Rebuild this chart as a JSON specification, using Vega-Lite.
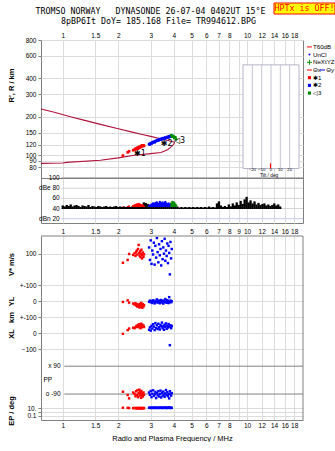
{
  "$schema": "https://vega.github.io/schema/vega-lite/v6.json",
  "background": "#ffffff",
  "padding": {"left": 6, "top": 2, "right": 0, "bottom": 0},
  "spacing": 0,
  "config": {
    "view": {"stroke": "#808080", "strokeWidth": 1},
    "font": "Liberation Sans",
    "concat": {"spacing": 0},
    "axis": {
      "labelFont": "Liberation Sans", "labelFontSize": 6.5, "labelColor": "#000000",
      "labelOverlap": false, "labelFlush": false, "labelPadding": 2,
      "titleFont": "Liberation Sans", "titleFontSize": 7.5, "titleColor": "#000000", "titleFontWeight": "bold",
      "gridColor": "#dcdcdc", "gridWidth": 1, "tickColor": "#808080", "domainColor": "#808080"
    }
  },
  "datasets": {
    "heading": [
      {"line": 1, "text": "TROMSO NORWAY\u00a0\u00a0\u00a0DYNASONDE 26-07-04 0402UT 15°E"},
      {"line": 2, "text": "8pBP6It DoY= 185.168 File= TR994612.BPG"}
    ],
    "status": [{"flag": "HPTx is OFF!"}],
    "single": [{}],
    "model": [
      {"f": 0.762, "r": 230, "branch": "upper"}, {"f": 0.9, "r": 217, "branch": "upper"},
      {"f": 1.1, "r": 200, "branch": "upper"}, {"f": 1.3, "r": 188, "branch": "upper"},
      {"f": 1.6, "r": 174, "branch": "upper"}, {"f": 2.0, "r": 161, "branch": "upper"},
      {"f": 2.35, "r": 152, "branch": "upper"}, {"f": 2.7, "r": 145, "branch": "upper"},
      {"f": 3.0, "r": 140, "branch": "upper"}, {"f": 3.4, "r": 134, "branch": "upper"},
      {"f": 3.8, "r": 129, "branch": "upper"}, {"f": 4.05, "r": 126, "branch": "upper"},
      {"f": 0.762, "r": 86, "branch": "lower"}, {"f": 1.0, "r": 86.5, "branch": "lower"},
      {"f": 1.05, "r": 87.5, "branch": "lower"}, {"f": 1.6, "r": 91, "branch": "lower"},
      {"f": 2.0, "r": 95, "branch": "lower"}, {"f": 2.44, "r": 99.5, "branch": "lower"},
      {"f": 3.0, "r": 102.5, "branch": "lower"}, {"f": 3.41, "r": 104.5, "branch": "lower"},
      {"f": 3.7, "r": 110, "branch": "lower"}, {"f": 3.9, "r": 117, "branch": "lower"},
      {"f": 4.0, "r": 122, "branch": "lower"}, {"f": 4.05, "r": 126, "branch": "lower"}
    ],
    "echoes": [
      {"f": 2.12, "r": 99, "a": 44, "vs": 42, "yl": -6, "xl": -5, "pp": -75, "ep": 14, "trace": "✱1"},
      {"f": 2.25, "r": 105, "a": 45, "vs": 60, "yl": 4, "xl": 18, "pp": -96, "ep": 13, "trace": "✱1"},
      {"f": 2.29, "r": 107, "a": 46, "vs": 98, "yl": -10, "xl": 28, "pp": -118, "ep": 12, "trace": "✱1"},
      {"f": 2.41, "r": 109, "a": 47, "vs": 92, "yl": -16, "xl": 33, "pp": -80, "ep": 11, "trace": "✱1"},
      {"f": 2.45, "r": 110, "a": 48, "vs": 102, "yl": -22, "xl": 30, "pp": -88, "ep": 12, "trace": "✱1"},
      {"f": 2.48, "r": 112, "a": 49, "vs": 86, "yl": -14, "xl": 36, "pp": -104, "ep": 11, "trace": "✱1"},
      {"f": 2.50, "r": 111, "a": 47, "vs": 110, "yl": -28, "xl": 40, "pp": -72, "ep": 12, "trace": "✱1"},
      {"f": 2.52, "r": 113, "a": 50, "vs": 120, "yl": -20, "xl": 45, "pp": -96, "ep": 10, "trace": "✱1"},
      {"f": 2.54, "r": 114, "a": 48, "vs": 95, "yl": -35, "xl": 38, "pp": -66, "ep": 11, "trace": "✱1"},
      {"f": 2.56, "r": 112, "a": 50, "vs": 130, "yl": -25, "xl": 50, "pp": -110, "ep": 12, "trace": "✱1"},
      {"f": 2.58, "r": 115, "a": 51, "vs": 156, "yl": -30, "xl": 42, "pp": -84, "ep": 11, "trace": "✱1"},
      {"f": 2.60, "r": 114, "a": 49, "vs": 105, "yl": -40, "xl": 55, "pp": -62, "ep": 10, "trace": "✱1"},
      {"f": 2.61, "r": 116, "a": 50, "vs": 88, "yl": -18, "xl": 35, "pp": -100, "ep": 12, "trace": "✱1"},
      {"f": 2.63, "r": 115, "a": 48, "vs": 115, "yl": -32, "xl": 48, "pp": -76, "ep": 11, "trace": "✱1"},
      {"f": 2.64, "r": 117, "a": 49, "vs": 78, "yl": -24, "xl": 30, "pp": -92, "ep": 10, "trace": "✱1"},
      {"f": 2.66, "r": 116, "a": 47, "vs": 100, "yl": -38, "xl": 58, "pp": -114, "ep": 11, "trace": "✱1"},
      {"f": 2.67, "r": 118, "a": 48, "vs": 125, "yl": -12, "xl": 44, "pp": -70, "ep": 12, "trace": "✱1"},
      {"f": 2.69, "r": 117, "a": 46, "vs": 70, "yl": -28, "xl": 36, "pp": -98, "ep": 11, "trace": "✱1"},
      {"f": 2.70, "r": 119, "a": 47, "vs": 92, "yl": -42, "xl": 52, "pp": -86, "ep": 10, "trace": "✱1"},
      {"f": 2.72, "r": 118, "a": 48, "vs": 108, "yl": -20, "xl": 40, "pp": -106, "ep": 11, "trace": "✱1"},
      {"f": 2.74, "r": 119, "a": 46, "vs": 80, "yl": -34, "xl": 46, "pp": -80, "ep": 12, "trace": "✱1"},
      {"f": 2.76, "r": 118, "a": 45, "vs": 96, "yl": -26, "xl": 38, "pp": -94, "ep": 11, "trace": "✱1"},
      {"f": 2.94, "r": 122, "a": 46, "vs": 140, "yl": -5, "xl": 20, "pp": -80, "ep": 14, "trace": "✱2"},
      {"f": 2.97, "r": 121, "a": 48, "vs": 60, "yl": 2, "xl": 35, "pp": -95, "ep": 13, "trace": "✱2"},
      {"f": 3.00, "r": 124, "a": 47, "vs": 185, "yl": -8, "xl": 15, "pp": -70, "ep": 15, "trace": "✱2"},
      {"f": 3.03, "r": 123, "a": 50, "vs": 35, "yl": 0, "xl": 45, "pp": -110, "ep": 12, "trace": "✱2"},
      {"f": 3.06, "r": 125, "a": 49, "vs": 120, "yl": -12, "xl": 28, "pp": -88, "ep": 13, "trace": "✱2"},
      {"f": 3.09, "r": 126, "a": 52, "vs": 95, "yl": 4, "xl": 55, "pp": -66, "ep": 14, "trace": "✱2"},
      {"f": 3.12, "r": 127, "a": 51, "vs": 170, "yl": -3, "xl": 40, "pp": -102, "ep": 13, "trace": "✱2"},
      {"f": 3.15, "r": 126, "a": 48, "vs": 30, "yl": -15, "xl": 18, "pp": -92, "ep": 15, "trace": "✱2"},
      {"f": 3.18, "r": 128, "a": 53, "vs": 150, "yl": 1, "xl": 62, "pp": -76, "ep": 12, "trace": "✱2"},
      {"f": 3.21, "r": 129, "a": 50, "vs": 75, "yl": -6, "xl": 30, "pp": -116, "ep": 14, "trace": "✱2"},
      {"f": 3.24, "r": 130, "a": 54, "vs": 200, "yl": 10, "xl": 48, "pp": -84, "ep": 13, "trace": "✱2"},
      {"f": 3.27, "r": 131, "a": 52, "vs": 110, "yl": -10, "xl": 25, "pp": -98, "ep": 13, "trace": "✱2"},
      {"f": 3.30, "r": 130, "a": 49, "vs": 45, "yl": -2, "xl": 58, "pp": -72, "ep": 14, "trace": "✱2"},
      {"f": 3.33, "r": 132, "a": 51, "vs": 160, "yl": 3, "xl": 36, "pp": -106, "ep": 12, "trace": "✱2"},
      {"f": 3.36, "r": 133, "a": 55, "vs": 90, "yl": -14, "xl": 22, "pp": -90, "ep": 15, "trace": "✱2"},
      {"f": 3.39, "r": 132, "a": 53, "vs": 130, "yl": -4, "xl": 50, "pp": -68, "ep": 13, "trace": "✱2"},
      {"f": 3.42, "r": 134, "a": 50, "vs": 25, "yl": 6, "xl": 42, "pp": -112, "ep": 14, "trace": "✱2"},
      {"f": 3.45, "r": 133, "a": 52, "vs": 180, "yl": -9, "xl": 65, "pp": -82, "ep": 13, "trace": "✱2"},
      {"f": 3.48, "r": 135, "a": 54, "vs": 65, "yl": 0, "xl": 30, "pp": -100, "ep": 12, "trace": "✱2"},
      {"f": 3.51, "r": 134, "a": 51, "vs": 140, "yl": -16, "xl": 44, "pp": -74, "ep": 14, "trace": "✱2"},
      {"f": 3.54, "r": 136, "a": 49, "vs": 100, "yl": 2, "xl": 20, "pp": -94, "ep": 13, "trace": "✱2"},
      {"f": 3.57, "r": 135, "a": 53, "vs": 195, "yl": -7, "xl": 52, "pp": -108, "ep": 15, "trace": "✱2"},
      {"f": 3.60, "r": 137, "a": 55, "vs": 55, "yl": 12, "xl": 38, "pp": -86, "ep": 13, "trace": "✱2"},
      {"f": 3.63, "r": 136, "a": 52, "vs": 120, "yl": -3, "xl": 60, "pp": -64, "ep": 14, "trace": "✱2"},
      {"f": 3.66, "r": 138, "a": 50, "vs": 85, "yl": -11, "xl": 26, "pp": -96, "ep": 12, "trace": "✱2"},
      {"f": 3.69, "r": 137, "a": 51, "vs": 165, "yl": 5, "xl": 46, "pp": -78, "ep": 13, "trace": "✱2"},
      {"f": 3.72, "r": 139, "a": 48, "vs": 40, "yl": -1, "xl": 34, "pp": -104, "ep": 14, "trace": "✱2"},
      {"f": 3.75, "r": 138, "a": 52, "vs": 150, "yl": -13, "xl": 56, "pp": -90, "ep": 13, "trace": "✱2"},
      {"f": 3.78, "r": 140, "a": 50, "vs": 105, "yl": 24, "xl": 40, "pp": -118, "ep": 15, "trace": "✱2"},
      {"f": 3.81, "r": 139, "a": 47, "vs": -32, "yl": -6, "xl": -76, "pp": -72, "ep": 13, "trace": "✱2"},
      {"f": 3.84, "r": 141, "a": 49, "vs": 175, "yl": 3, "xl": 48, "pp": -88, "ep": 12, "trace": "✱2"},
      {"f": 3.87, "r": 140, "a": 51, "vs": 70, "yl": -8, "xl": 30, "pp": -100, "ep": 14, "trace": "✱2"},
      {"f": 3.90, "r": 141, "a": 48, "vs": 130, "yl": -2, "xl": 44, "pp": -84, "ep": 13, "trace": "✱2"},
      {"f": 3.88, "r": 143, "a": 52, "trace": "◁3"},
      {"f": 3.93, "r": 139, "a": 55, "trace": "◁3"},
      {"f": 3.98, "r": 141, "a": 54, "trace": "◁3"},
      {"f": 4.03, "r": 136, "a": 53, "trace": "◁3"},
      {"f": 4.08, "r": 138, "a": 50, "trace": "◁3"},
      {"f": 4.12, "r": 133, "a": 48, "trace": "◁3"}
    ],
    "tags": [
      {"f": 2.62, "r": 102, "tag": "✱1"},
      {"f": 3.66, "r": 123, "tag": "✱2"},
      {"f": 4.3, "r": 128, "tag": "◁3"}
    ],
    "unclassified": [
      {"f": 1.000, "a": 46}, {"f": 1.025, "a": 44}, {"f": 1.051, "a": 47}, {"f": 1.077, "a": 45},
      {"f": 1.104, "a": 48}, {"f": 1.131, "a": 44}, {"f": 1.160, "a": 46}, {"f": 1.189, "a": 47},
      {"f": 1.218, "a": 45}, {"f": 1.249, "a": 43}, {"f": 1.280, "a": 46}, {"f": 1.312, "a": 45},
      {"f": 1.345, "a": 44}, {"f": 1.379, "a": 47}, {"f": 1.413, "a": 43}, {"f": 1.448, "a": 45},
      {"f": 1.485, "a": 44}, {"f": 1.522, "a": 43}, {"f": 1.560, "a": 45}, {"f": 1.599, "a": 44},
      {"f": 1.639, "a": 43}, {"f": 1.680, "a": 44}, {"f": 1.722, "a": 45}, {"f": 1.765, "a": 43},
      {"f": 1.809, "a": 44}, {"f": 1.854, "a": 43}, {"f": 1.900, "a": 44}, {"f": 1.948, "a": 45},
      {"f": 1.996, "a": 43}, {"f": 2.046, "a": 44}, {"f": 2.098, "a": 43}, {"f": 2.150, "a": 44},
      {"f": 2.204, "a": 43}, {"f": 2.259, "a": 44}, {"f": 2.315, "a": 43}, {"f": 2.373, "a": 44},
      {"f": 2.433, "a": 45}, {"f": 2.493, "a": 44}, {"f": 2.556, "a": 45}, {"f": 2.620, "a": 46},
      {"f": 2.685, "a": 47}, {"f": 2.752, "a": 52}, {"f": 2.821, "a": 51}, {"f": 2.892, "a": 49},
      {"f": 2.964, "a": 45}, {"f": 3.038, "a": 44}, {"f": 3.114, "a": 45}, {"f": 3.192, "a": 44},
      {"f": 3.271, "a": 46}, {"f": 3.353, "a": 45}, {"f": 3.437, "a": 44}, {"f": 3.523, "a": 46},
      {"f": 3.611, "a": 45}, {"f": 3.701, "a": 44}, {"f": 3.794, "a": 46}, {"f": 3.889, "a": 47},
      {"f": 3.986, "a": 44}, {"f": 4.085, "a": 43}, {"f": 4.188, "a": 44}, {"f": 4.292, "a": 42},
      {"f": 4.400, "a": 43}, {"f": 4.510, "a": 42}, {"f": 4.622, "a": 43}, {"f": 4.738, "a": 42},
      {"f": 4.856, "a": 43}, {"f": 4.978, "a": 42}, {"f": 5.102, "a": 43}, {"f": 5.230, "a": 42},
      {"f": 5.361, "a": 43}, {"f": 5.495, "a": 42}, {"f": 5.632, "a": 43}, {"f": 5.773, "a": 42},
      {"f": 5.917, "a": 43}, {"f": 6.065, "a": 42}, {"f": 6.217, "a": 44}, {"f": 6.372, "a": 42},
      {"f": 6.531, "a": 43}, {"f": 6.695, "a": 42}, {"f": 6.862, "a": 50}, {"f": 7.034, "a": 54},
      {"f": 7.210, "a": 46}, {"f": 7.390, "a": 43}, {"f": 7.575, "a": 45}, {"f": 7.764, "a": 43},
      {"f": 7.958, "a": 48}, {"f": 8.157, "a": 44}, {"f": 8.361, "a": 50}, {"f": 8.570, "a": 46},
      {"f": 8.784, "a": 52}, {"f": 9.004, "a": 47}, {"f": 9.229, "a": 55}, {"f": 9.460, "a": 49},
      {"f": 9.696, "a": 58}, {"f": 9.939, "a": 63}, {"f": 10.19, "a": 52}, {"f": 10.44, "a": 56},
      {"f": 10.70, "a": 50}, {"f": 10.97, "a": 54}, {"f": 11.24, "a": 48}, {"f": 11.53, "a": 51},
      {"f": 11.81, "a": 47}, {"f": 12.11, "a": 49}, {"f": 12.41, "a": 50}, {"f": 12.72, "a": 46},
      {"f": 13.04, "a": 48}, {"f": 13.37, "a": 45}, {"f": 13.70, "a": 47}, {"f": 14.04, "a": 50},
      {"f": 14.39, "a": 46}, {"f": 14.75, "a": 48}, {"f": 15.12, "a": 44}
    ],
    "dbeLevels": [
      {"level": 100, "label": "100"}, {"level": 80, "label": "dBe 80"}, {"level": 60, "label": "60"},
      {"level": 40, "label": "40"}, {"level": 20, "label": "dBn 20"}
    ],
    "ppLevels": [{"level": 90, "label": "x 90"}, {"level": -90, "label": "o -90"}],
    "tiltGrid": [{"tilt": -20}, {"tilt": -10}, {"tilt": 0}, {"tilt": 10}, {"tilt": 20}],
    "tiltMean": [{"tilt": -0.5}],
    "tiltCaption": [{"caption": "Tilt / deg"}],
    "legendItems": [
      {"item": "T60dB", "line": "T60dB"}, {"item": "UnCl", "line": "UnCl"},
      {"item": "NeXtYZ", "line": "NeXtYZ"}, {"item": "Θx", "line": "Θx Θy"},
      {"item": "Θy", "line": "Θx Θy"}, {"item": "✱1", "line": "✱1"},
      {"item": "✱2", "line": "✱2"}, {"item": "◁3", "line": "◁3"}
    ]
  },
  "vconcat": [
    {
      "hconcat": [
        {
          "width": 232, "height": 28, "view": {"stroke": null},
          "data": {"name": "heading"},
          "encoding": {
            "y": {"field": "line", "type": "ordinal", "axis": null, "scale": {"type": "point", "padding": 1.4, "domain": [1, 2]}},
            "text": {"field": "text", "type": "nominal"}
          },
          "layer": [
            {"transform": [{"filter": "datum.line == 1"}],
             "mark": {"type": "text", "font": "DejaVu Sans Mono", "fontSize": 8.3, "baseline": "middle", "dx": -6.5, "color": "#000000"},
             "encoding": {}},
            {"transform": [{"filter": "datum.line == 2"}],
             "mark": {"type": "text", "font": "DejaVu Sans Mono", "fontSize": 8.3, "baseline": "middle", "dx": 1.5, "color": "#000000"},
             "encoding": {}}
          ]
        },
        {
          "width": 61, "height": 11, "view": {"stroke": null},
          "data": {"name": "status"},
          "layer": [
            {"mark": {"type": "rect", "fill": "#ffff00", "stroke": "#ff0000", "strokeWidth": 1},
             "encoding": {
               "x": {"datum": 0, "type": "quantitative", "scale": {"domain": [0, 1]}, "axis": null},
               "x2": {"datum": 1},
               "y": {"datum": 0, "type": "quantitative", "scale": {"domain": [0, 1]}, "axis": null},
               "y2": {"datum": 1}
             }},
            {"mark": {"type": "text", "font": "DejaVu Sans Mono", "fontSize": 8.3, "color": "#ff0000", "baseline": "middle"},
             "encoding": {
               "x": {"datum": 0.5, "type": "quantitative", "scale": {"domain": [0, 1]}, "axis": null},
               "y": {"datum": 0.5, "type": "quantitative", "scale": {"domain": [0, 1]}, "axis": null},
               "text": {"field": "flag", "type": "nominal"}
             }}
          ]
        }
      ]
    },
    {
      "hconcat": [
        {
          "bounds": "flush",
          "spacing": 0,
          "vconcat": [
            {
              "width": 262, "height": 138,
              "resolve": {"scale": {"x": "independent"}},
              "layer": [
                {
                  "layer": [
                    {
                      "data": {"name": "model"},
                      "mark": {"type": "line", "color": "#b0123c", "strokeWidth": 1.1},
                      "encoding": {
                        "x": {"field": "f", "type": "quantitative",
                              "scale": {"type": "log", "domain": [0.762, 20.1], "nice": false},
                              "axis": {"orient": "top", "values": [1, 1.5, 2, 3, 4, 5, 6, 7, 8, 9, 10, 12, 14, 16, 18],
                                       "labelExpr": "datum.value == 9 ? '' : format(datum.value, '~g')",
                                       "grid": true, "ticks": false, "domain": false, "labelPadding": 2, "title": null}},
                        "y": {"field": "r", "type": "quantitative",
                              "scale": {"type": "log", "domain": [66, 800], "nice": false},
                              "axis": {"title": "R', R / km", "values": [80, 90, 100, 120, 150, 200, 300, 400, 600, 800],
                                       "labelExpr": "format(datum.value, 'd')", "grid": true, "tickSize": 3, "domain": false,
                                       "minExtent": 22, "maxExtent": 22, "titlePadding": 4, "titleY": 45}},
                        "detail": {"field": "branch", "type": "nominal"}
                      }
                    },
                    {
                      "data": {"name": "echoes"},
                      "mark": {"type": "point", "shape": "square", "filled": true, "size": 7, "opacity": 1},
                      "encoding": {
                        "x": {"field": "f", "type": "quantitative", "scale": {"type": "log", "domain": [0.762, 20.1], "nice": false}},
                        "y": {"field": "r", "type": "quantitative", "scale": {"type": "log", "domain": [66, 800], "nice": false}},
                        "color": {"field": "trace", "type": "nominal", "scale": {"domain": ["✱1", "✱2", "◁3"], "range": ["#ff0000", "#0000ff", "#008c00"]}, "legend": null}
                      }
                    },
                    {
                      "data": {"name": "tags"},
                      "mark": {"type": "text", "font": "DejaVu Sans", "fontSize": 8, "color": "#000000", "baseline": "middle"},
                      "encoding": {
                        "x": {"field": "f", "type": "quantitative", "scale": {"type": "log", "domain": [0.762, 20.1], "nice": false}},
                        "y": {"field": "r", "type": "quantitative", "scale": {"type": "log", "domain": [66, 800], "nice": false}},
                        "text": {"field": "tag", "type": "nominal"}
                      }
                    }
                  ]
                },
                {
                  "layer": [
                    {
                      "data": {"name": "single"},
                      "mark": {"type": "rect", "fill": "#ffffff", "stroke": "#b4b4c8", "strokeWidth": 1},
                      "encoding": {
                        "x": {"datum": -30, "type": "quantitative", "scale": {"domain": [-30, 30], "range": [202, 258], "nice": false, "zero": false}, "axis": null},
                        "x2": {"datum": 30},
                        "y": {"datum": 510, "type": "quantitative", "scale": {"type": "log", "domain": [66, 800], "nice": false}},
                        "y2": {"datum": 78.4}
                      }
                    },
                    {
                      "data": {"name": "tiltGrid"},
                      "mark": {"type": "rule", "color": "#c4c4d4", "strokeWidth": 1},
                      "encoding": {
                        "x": {"field": "tilt", "type": "quantitative", "scale": {"domain": [-30, 30], "range": [202, 258], "nice": false, "zero": false}, "axis": null},
                        "y": {"datum": 510, "type": "quantitative", "scale": {"type": "log", "domain": [66, 800], "nice": false}},
                        "y2": {"datum": 78.4}
                      }
                    },
                    {
                      "data": {"name": "tiltMean"},
                      "mark": {"type": "rule", "color": "#ff0000", "strokeWidth": 1.2},
                      "encoding": {
                        "x": {"field": "tilt", "type": "quantitative", "scale": {"domain": [-30, 30], "range": [202, 258], "nice": false, "zero": false}, "axis": null},
                        "y": {"datum": 86, "type": "quantitative", "scale": {"type": "log", "domain": [66, 800], "nice": false}},
                        "y2": {"datum": 78.4}
                      }
                    },
                    {
                      "data": {"name": "tiltGrid"},
                      "mark": {"type": "text", "fontSize": 4.2, "baseline": "middle", "color": "#000000"},
                      "encoding": {
                        "x": {"field": "tilt", "type": "quantitative", "scale": {"domain": [-30, 30], "range": [202, 258], "nice": false, "zero": false}, "axis": null},
                        "y": {"datum": 76, "type": "quantitative", "scale": {"type": "log", "domain": [66, 800], "nice": false}},
                        "text": {"field": "tilt", "type": "quantitative", "format": "d"}
                      }
                    },
                    {
                      "data": {"name": "tiltCaption"},
                      "mark": {"type": "text", "fontSize": 4.8, "baseline": "middle", "color": "#000000"},
                      "encoding": {
                        "x": {"datum": -2, "type": "quantitative", "scale": {"domain": [-30, 30], "range": [202, 258], "nice": false, "zero": false}, "axis": null},
                        "y": {"datum": 69, "type": "quantitative", "scale": {"type": "log", "domain": [66, 800], "nice": false}},
                        "text": {"field": "caption", "type": "nominal"}
                      }
                    }
                  ]
                }
              ]
            },
            {
              "width": 262, "height": 45,
              "layer": [
                {
                  "data": {"name": "dbeLevels"},
                  "mark": {"type": "rule", "strokeWidth": 1},
                  "encoding": {
                    "x": {"datum": 0.98, "type": "quantitative", "scale": {"type": "log", "domain": [0.762, 20.1], "nice": false}},
                    "x2": {"datum": 20.1},
                    "y": {"field": "level", "type": "quantitative", "scale": {"domain": [11.5, 100], "nice": false, "zero": false},
                          "axis": {"title": "dBe", "titleOpacity": 0, "labels": false, "ticks": false, "grid": false, "domain": false,
                                   "minExtent": 22, "maxExtent": 22, "titlePadding": 4}},
                    "stroke": {"condition": [{"test": "datum.level == 100", "value": "#808080"}, {"test": "datum.level == 20", "value": "#c8c8f0"}], "value": "#d4d4d4"}
                  }
                },
                {
                  "data": {"name": "dbeLevels"},
                  "mark": {"type": "text", "align": "right", "baseline": "middle", "fontSize": 6.5, "dx": -1, "color": "#000000"},
                  "encoding": {
                    "x": {"datum": 0.975, "type": "quantitative", "scale": {"type": "log", "domain": [0.762, 20.1], "nice": false}},
                    "y": {"field": "level", "type": "quantitative", "scale": {"domain": [11.5, 100], "nice": false, "zero": false}},
                    "text": {"field": "label", "type": "nominal"}
                  }
                },
                {
                  "data": {"name": "unclassified"},
                  "mark": {"type": "rule", "color": "#000000", "strokeWidth": 2.3},
                  "encoding": {
                    "x": {"field": "f", "type": "quantitative", "scale": {"type": "log", "domain": [0.762, 20.1], "nice": false},
                          "axis": {"orient": "bottom", "values": [1, 1.5, 2, 3, 4, 5, 6, 7, 8, 9, 10, 12, 14, 16, 18],
                                   "labelExpr": "format(datum.value, '~g')", "grid": true, "ticks": false, "domain": false,
                                   "labelPadding": 5, "title": null}},
                    "y": {"field": "a", "type": "quantitative", "scale": {"domain": [11.5, 100], "nice": false, "zero": false}},
                    "y2": {"datum": 39}
                  }
                },
                {
                  "data": {"name": "echoes"},
                  "mark": {"type": "rule", "strokeWidth": 2},
                  "encoding": {
                    "x": {"field": "f", "type": "quantitative", "scale": {"type": "log", "domain": [0.762, 20.1], "nice": false}},
                    "y": {"field": "a", "type": "quantitative", "scale": {"domain": [11.5, 100], "nice": false, "zero": false}},
                    "y2": {"datum": 43},
                    "color": {"field": "trace", "type": "nominal", "scale": {"domain": ["✱1", "✱2", "◁3"], "range": ["#ff0000", "#0000ff", "#008c00"]}, "legend": null}
                  }
                }
              ]
            }
          ]
        },
        {
          "width": 33, "height": 60, "view": {"stroke": null},
          "data": {"name": "legendItems"},
          "encoding": {
            "y": {"field": "line", "type": "ordinal", "axis": null,
                  "scale": {"type": "point", "padding": 0.9, "domain": ["T60dB", "UnCl", "NeXtYZ", "Θx Θy", "✱1", "✱2", "◁3"]}}
          },
          "layer": [
            {
              "transform": [{"filter": "datum.item == 'T60dB' || datum.item == 'NeXtYZ' || datum.item == 'Θx'"}],
              "mark": {"type": "point", "filled": false, "strokeWidth": 1, "opacity": 1, "size": 25},
              "encoding": {
                "x": {"datum": 1.05, "type": "quantitative", "scale": {"domain": [0, 10]}, "axis": null},
                "shape": {"field": "item", "type": "nominal", "legend": null,
                          "scale": {"domain": ["T60dB", "UnCl", "NeXtYZ", "Θx", "Θy", "✱1", "✱2", "◁3"],
                                    "range": ["stroke", "circle", "M-1,0H1M0,-1V1", "stroke", "stroke", "square", "square", "square"]}},
                "color": {"field": "item", "type": "nominal", "legend": null,
                          "scale": {"domain": ["T60dB", "UnCl", "NeXtYZ", "Θx", "Θy", "✱1", "✱2", "◁3"],
                                    "range": ["#a0a0a0", "#000000", "#ff6688", "#ff7788", "#7777ff", "#ff0000", "#0000ff", "#008c00"]}}
              }
            },
            {
              "transform": [{"filter": "datum.item == 'Θy'"}],
              "mark": {"type": "point", "filled": false, "strokeWidth": 1, "opacity": 1, "size": 25},
              "encoding": {
                "x": {"datum": 5.0, "type": "quantitative", "scale": {"domain": [0, 10]}, "axis": null},
                "shape": {"field": "item", "type": "nominal", "legend": null,
                          "scale": {"domain": ["T60dB", "UnCl", "NeXtYZ", "Θx", "Θy", "✱1", "✱2", "◁3"],
                                    "range": ["stroke", "circle", "M-1,0H1M0,-1V1", "stroke", "stroke", "square", "square", "square"]}},
                "color": {"field": "item", "type": "nominal", "legend": null,
                          "scale": {"domain": ["T60dB", "UnCl", "NeXtYZ", "Θx", "Θy", "✱1", "✱2", "◁3"],
                                    "range": ["#a0a0a0", "#000000", "#ff6688", "#ff7788", "#7777ff", "#ff0000", "#0000ff", "#008c00"]}}
              }
            },
            {
              "transform": [{"filter": "datum.item == 'UnCl' || datum.item == '✱1' || datum.item == '✱2' || datum.item == '◁3'"}],
              "mark": {"type": "point", "filled": true, "opacity": 1},
              "encoding": {
                "x": {"datum": 1.05, "type": "quantitative", "scale": {"domain": [0, 10]}, "axis": null},
                "shape": {"field": "item", "type": "nominal", "legend": null,
                          "scale": {"domain": ["T60dB", "UnCl", "NeXtYZ", "Θx", "Θy", "✱1", "✱2", "◁3"],
                                    "range": ["stroke", "circle", "M-1,0H1M0,-1V1", "stroke", "stroke", "square", "square", "square"]}},
                "color": {"field": "item", "type": "nominal", "legend": null,
                          "scale": {"domain": ["T60dB", "UnCl", "NeXtYZ", "Θx", "Θy", "✱1", "✱2", "◁3"],
                                    "range": ["#a0a0a0", "#000000", "#ff6688", "#ff7788", "#7777ff", "#ff0000", "#0000ff", "#008c00"]}},
                "size": {"condition": {"test": "datum.item == 'UnCl'", "value": 4}, "value": 10}
              }
            },
            {
              "transform": [{"filter": "datum.item != 'Θy'"}],
              "mark": {"type": "text", "align": "left", "baseline": "middle", "fontSize": 6.2, "color": "#000000", "font": "Liberation Sans"},
              "encoding": {
                "x": {"datum": 2.1, "type": "quantitative", "scale": {"domain": [0, 10]}, "axis": null},
                "text": {"field": "item", "type": "nominal"}
              }
            },
            {
              "transform": [{"filter": "datum.item == 'Θy'"}],
              "mark": {"type": "text", "align": "left", "baseline": "middle", "fontSize": 6.2, "color": "#000000", "font": "Liberation Sans"},
              "encoding": {
                "x": {"datum": 6.1, "type": "quantitative", "scale": {"domain": [0, 10]}, "axis": null},
                "text": {"field": "item", "type": "nominal"}
              }
            }
          ]
        }
      ]
    },
    {
      "bounds": "flush",
      "spacing": 0,
      "vconcat": [
        {
          "width": 262, "height": 49, "view": {"stroke": null},
          "layer": [
            {
              "data": {"name": "echoes"},
              "mark": {"type": "point", "shape": "square", "filled": true, "size": 6, "opacity": 1},
              "encoding": {
                "x": {"field": "f", "type": "quantitative", "scale": {"type": "log", "domain": [0.762, 20.1], "nice": false},
                      "axis": {"values": [1, 1.5, 2, 3, 4, 5, 6, 7, 8, 9, 10, 12, 14, 16, 18], "grid": true, "labels": false, "ticks": false, "domain": false, "title": null}},
                "y": {"field": "vs", "type": "quantitative", "scale": {"domain": [-100, 213], "nice": false, "zero": false},
                      "axis": {"title": "V* m/s", "values": [100, 0, -100], "labelExpr": "datum.value == -100 ? '' : format(datum.value, 'd')",
                               "grid": true, "tickSize": 3, "minExtent": 22, "maxExtent": 22, "titlePadding": 4, "titleY": 28}},
                "color": {"field": "trace", "type": "nominal", "scale": {"domain": ["✱1", "✱2", "◁3"], "range": ["#ff0000", "#0000ff", "#008c00"]}, "legend": null}
              }
            },
            {
              "data": {"name": "single"},
              "mark": {"type": "rule", "color": "#808080"},
              "encoding": {"x": {"datum": 20.1, "type": "quantitative", "scale": {"type": "log", "domain": [0.762, 20.1], "nice": false}}}
            },
            {
              "data": {"name": "single"},
              "mark": {"type": "rule", "color": "#808080"},
              "encoding": {"y": {"datum": 213, "type": "quantitative", "scale": {"domain": [-100, 213], "nice": false, "zero": false}}}
            }
          ]
        },
        {
          "width": 262, "height": 32, "view": {"stroke": null},
          "layer": [
            {
              "data": {"name": "echoes"},
              "mark": {"type": "point", "shape": "square", "filled": true, "size": 6, "opacity": 1},
              "encoding": {
                "x": {"field": "f", "type": "quantitative", "scale": {"type": "log", "domain": [0.762, 20.1], "nice": false},
                      "axis": {"values": [1, 1.5, 2, 3, 4, 5, 6, 7, 8, 9, 10, 12, 14, 16, 18], "grid": true, "labels": false, "ticks": false, "domain": false, "title": null}},
                "y": {"field": "yl", "type": "quantitative", "scale": {"domain": [-100, 100], "nice": false, "zero": false},
                      "axis": {"title": "YL", "values": [100, 0, -100], "labelExpr": "datum.value == 100 ? '+-100' : datum.value == -100 ? '' : format(datum.value, 'd')",
                               "grid": true, "tickSize": 3, "minExtent": 22, "maxExtent": 22, "titlePadding": 4}},
                "color": {"field": "trace", "type": "nominal", "scale": {"domain": ["✱1", "✱2", "◁3"], "range": ["#ff0000", "#0000ff", "#008c00"]}, "legend": null}
              }
            },
            {
              "data": {"name": "single"},
              "mark": {"type": "rule", "color": "#808080"},
              "encoding": {"x": {"datum": 20.1, "type": "quantitative", "scale": {"type": "log", "domain": [0.762, 20.1], "nice": false}}}
            }
          ]
        },
        {
          "width": 262, "height": 32, "view": {"stroke": null},
          "layer": [
            {
              "data": {"name": "echoes"},
              "mark": {"type": "point", "shape": "square", "filled": true, "size": 6, "opacity": 1},
              "encoding": {
                "x": {"field": "f", "type": "quantitative", "scale": {"type": "log", "domain": [0.762, 20.1], "nice": false},
                      "axis": {"values": [1, 1.5, 2, 3, 4, 5, 6, 7, 8, 9, 10, 12, 14, 16, 18], "grid": true, "labels": false, "ticks": false, "domain": false, "title": null}},
                "y": {"field": "xl", "type": "quantitative", "scale": {"domain": [-100, 100], "nice": false, "zero": false},
                      "axis": {"title": "XL\u00a0\u00a0\u00a0km", "values": [100, 0, -100], "labelExpr": "datum.value == 100 ? '+-100' : format(datum.value, 'd')",
                               "grid": true, "tickSize": 3, "minExtent": 22, "maxExtent": 22, "titlePadding": 4, "titleY": 8}},
                "color": {"field": "trace", "type": "nominal", "scale": {"domain": ["✱1", "✱2", "◁3"], "range": ["#ff0000", "#0000ff", "#008c00"]}, "legend": null}
              }
            },
            {
              "data": {"name": "single"},
              "mark": {"type": "rule", "color": "#808080"},
              "encoding": {"x": {"datum": 20.1, "type": "quantitative", "scale": {"type": "log", "domain": [0.762, 20.1], "nice": false}}}
            }
          ]
        },
        {
          "width": 262, "height": 52, "view": {"stroke": null},
          "layer": [
            {
              "data": {"name": "ppLevels"},
              "mark": {"type": "rule", "color": "#808080", "strokeWidth": 1},
              "encoding": {
                "x": {"datum": 1.02, "type": "quantitative", "scale": {"type": "log", "domain": [0.762, 20.1], "nice": false}},
                "x2": {"datum": 20.1},
                "y": {"field": "level", "type": "quantitative", "scale": {"domain": [-135, 201], "nice": false, "zero": false},
                      "axis": {"title": "PP", "titleOpacity": 0, "labels": false, "ticks": false, "grid": false,
                               "minExtent": 22, "maxExtent": 22, "titlePadding": 4}}
              }
            },
            {
              "data": {"name": "echoes"},
              "mark": {"type": "point", "shape": "square", "filled": true, "size": 6, "opacity": 1},
              "encoding": {
                "x": {"field": "f", "type": "quantitative", "scale": {"type": "log", "domain": [0.762, 20.1], "nice": false},
                      "axis": {"values": [1, 1.5, 2, 3, 4, 5, 6, 7, 8, 9, 10, 12, 14, 16, 18], "grid": true, "labels": false, "ticks": false, "domain": false, "title": null}},
                "y": {"field": "pp", "type": "quantitative", "scale": {"domain": [-135, 201], "nice": false, "zero": false}},
                "color": {"field": "trace", "type": "nominal", "scale": {"domain": ["✱1", "✱2", "◁3"], "range": ["#ff0000", "#0000ff", "#008c00"]}, "legend": null}
              }
            },
            {
              "data": {"name": "ppLevels"},
              "mark": {"type": "text", "align": "right", "baseline": "middle", "fontSize": 6.5, "dx": -1, "color": "#000000"},
              "encoding": {
                "x": {"datum": 0.985, "type": "quantitative", "scale": {"type": "log", "domain": [0.762, 20.1], "nice": false}},
                "y": {"field": "level", "type": "quantitative", "scale": {"domain": [-135, 201], "nice": false, "zero": false}},
                "text": {"field": "label", "type": "nominal"}
              }
            },
            {
              "data": {"name": "single"},
              "mark": {"type": "text", "align": "left", "baseline": "middle", "fontSize": 6.5, "color": "#000000"},
              "encoding": {
                "x": {"datum": 0.785, "type": "quantitative", "scale": {"type": "log", "domain": [0.762, 20.1], "nice": false}},
                "y": {"datum": 0, "type": "quantitative", "scale": {"domain": [-135, 201], "nice": false, "zero": false}},
                "text": {"value": "PP"}
              }
            },
            {
              "data": {"name": "single"},
              "mark": {"type": "rule", "color": "#808080"},
              "encoding": {"x": {"datum": 20.1, "type": "quantitative", "scale": {"type": "log", "domain": [0.762, 20.1], "nice": false}}}
            }
          ]
        },
        {
          "width": 262, "height": 19, "view": {"stroke": null},
          "layer": [
            {
              "data": {"name": "echoes"},
              "mark": {"type": "point", "shape": "square", "filled": true, "size": 6, "opacity": 1},
              "encoding": {
                "x": {"field": "f", "type": "quantitative", "scale": {"type": "log", "domain": [0.762, 20.1], "nice": false},
                      "axis": {"values": [1, 1.5, 2, 3, 4, 5, 6, 7, 8, 9, 10, 12, 14, 16, 18],
                               "labelExpr": "datum.value == 9 ? '' : format(datum.value, '~g')",
                               "grid": true, "ticks": false, "domain": true, "labelPadding": 2,
                               "title": "Radio and Plasma Frequency / MHz", "titleFontWeight": "normal", "titlePadding": 6}},
                "y": {"field": "ep", "type": "quantitative", "scale": {"type": "log", "domain": [0.0091, 787], "nice": false},
                      "axis": {"title": "EP / deg", "values": [10, 1, 0.1],
                               "labelExpr": "datum.value == 10 ? '10.' : datum.value == 0.1 ? '0.1' : ''",
                               "grid": true, "tickSize": 3, "minExtent": 22, "maxExtent": 22, "titlePadding": 4}},
                "color": {"field": "trace", "type": "nominal", "scale": {"domain": ["✱1", "✱2", "◁3"], "range": ["#ff0000", "#0000ff", "#008c00"]}, "legend": null}
              }
            },
            {
              "data": {"name": "single"},
              "mark": {"type": "rule", "color": "#808080"},
              "encoding": {"x": {"datum": 20.1, "type": "quantitative", "scale": {"type": "log", "domain": [0.762, 20.1], "nice": false}}}
            }
          ]
        }
      ]
    }
  ]
}
